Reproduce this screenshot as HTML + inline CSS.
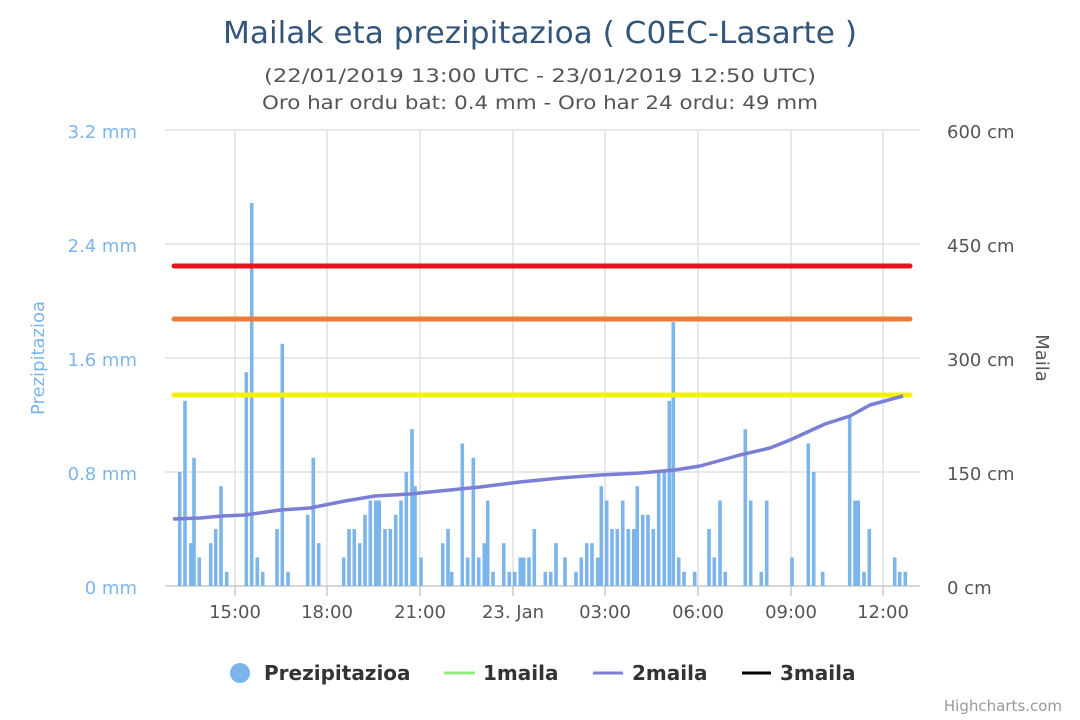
<!DOCTYPE html>
<html><head><meta charset="utf-8"><style>
html,body{margin:0;padding:0;background:#fff;}
svg{display:block;font-family:"DejaVu Sans","Liberation Sans",sans-serif;}
</style></head><body>
<svg width="1080" height="720" viewBox="0 0 1080 720" xmlns="http://www.w3.org/2000/svg">
<rect width="1080" height="720" fill="#fff"/>
<text x="540" y="43" text-anchor="middle" font-size="30" fill="#34557a" textLength="634" lengthAdjust="spacingAndGlyphs">Mailak eta prezipitazioa ( C0EC-Lasarte )</text>
<text x="540" y="82" text-anchor="middle" font-size="19" fill="#555" textLength="552" lengthAdjust="spacingAndGlyphs">(22/01/2019 13:00 UTC - 23/01/2019 12:50 UTC)</text>
<text x="540" y="109" text-anchor="middle" font-size="19" fill="#555" textLength="556" lengthAdjust="spacingAndGlyphs">Oro har ordu bat: 0.4 mm - Oro har 24 ordu: 49 mm</text>
<g stroke="#e0e0e0" stroke-width="1.5">
<line x1="165" y1="130" x2="920" y2="130"/><line x1="165" y1="244" x2="920" y2="244"/><line x1="165" y1="358" x2="920" y2="358"/><line x1="165" y1="472" x2="920" y2="472"/>
<line x1="235" y1="130" x2="235" y2="586"/><line x1="327" y1="130" x2="327" y2="586"/><line x1="420" y1="130" x2="420" y2="586"/><line x1="513" y1="130" x2="513" y2="586"/><line x1="605" y1="130" x2="605" y2="586"/><line x1="698" y1="130" x2="698" y2="586"/><line x1="791" y1="130" x2="791" y2="586"/><line x1="883" y1="130" x2="883" y2="586"/>
</g>
<line x1="165" y1="586" x2="920" y2="586" stroke="#c8c8c8" stroke-width="1.5"/>
<g stroke="#c8c8c8" stroke-width="1.5"><line x1="235" y1="586" x2="235" y2="596"/><line x1="327" y1="586" x2="327" y2="596"/><line x1="420" y1="586" x2="420" y2="596"/><line x1="513" y1="586" x2="513" y2="596"/><line x1="605" y1="586" x2="605" y2="596"/><line x1="698" y1="586" x2="698" y2="596"/><line x1="791" y1="586" x2="791" y2="596"/><line x1="883" y1="586" x2="883" y2="596"/></g>
<g font-size="18" fill="#7cb5ec" text-anchor="end">
<text x="137" y="138">3.2 mm</text><text x="137" y="252">2.4 mm</text><text x="137" y="366">1.6 mm</text><text x="137" y="480">0.8 mm</text><text x="137" y="594">0 mm</text>
</g>
<text transform="translate(44,358) rotate(-90)" text-anchor="middle" font-size="18" fill="#7cb5ec">Prezipitazioa</text>
<g font-size="18" fill="#555">
<text x="947" y="138">600 cm</text><text x="947" y="252">450 cm</text><text x="947" y="366">300 cm</text><text x="947" y="480">150 cm</text><text x="947" y="594">0 cm</text>
</g>
<text transform="translate(1036,358) rotate(90)" text-anchor="middle" font-size="18" fill="#555">Maila</text>
<g font-size="18" fill="#555" text-anchor="middle">
<text x="235" y="618">15:00</text><text x="327" y="618">18:00</text><text x="420" y="618">21:00</text><text x="513" y="618">23. Jan</text><text x="605" y="618">03:00</text><text x="698" y="618">06:00</text><text x="791" y="618">09:00</text><text x="883" y="618">12:00</text>
</g>
<g fill="#7cb5ec">
<rect x="177.9" y="472" width="3.6" height="114"/>
<rect x="183.2" y="400.8" width="3.6" height="185.2"/>
<rect x="188.9" y="543.2" width="3.6" height="42.8"/>
<rect x="192.2" y="457.8" width="3.6" height="128.2"/>
<rect x="197.5" y="557.5" width="3.6" height="28.5"/>
<rect x="208.9" y="543.2" width="3.6" height="42.8"/>
<rect x="213.9" y="529" width="3.6" height="57"/>
<rect x="219.2" y="486.2" width="3.6" height="99.8"/>
<rect x="224.9" y="571.8" width="3.6" height="14.2"/>
<rect x="244.5" y="372.2" width="3.6" height="213.8"/>
<rect x="249.9" y="203" width="3.6" height="383"/>
<rect x="255.5" y="557.5" width="3.6" height="28.5"/>
<rect x="260.9" y="571.8" width="3.6" height="14.2"/>
<rect x="275.2" y="529" width="3.6" height="57"/>
<rect x="280.5" y="343.8" width="3.6" height="242.2"/>
<rect x="286.2" y="571.8" width="3.6" height="14.2"/>
<rect x="305.9" y="514.8" width="3.6" height="71.2"/>
<rect x="311.5" y="457.8" width="3.6" height="128.2"/>
<rect x="316.9" y="543.2" width="3.6" height="42.8"/>
<rect x="341.9" y="557.5" width="3.6" height="28.5"/>
<rect x="347.2" y="529" width="3.6" height="57"/>
<rect x="352.5" y="529" width="3.6" height="57"/>
<rect x="357.9" y="543.2" width="3.6" height="42.8"/>
<rect x="363.2" y="514.8" width="3.6" height="71.2"/>
<rect x="368.5" y="500.5" width="3.6" height="85.5"/>
<rect x="373.9" y="500.5" width="3.6" height="85.5"/>
<rect x="377.5" y="500.5" width="3.6" height="85.5"/>
<rect x="383.2" y="529" width="3.6" height="57"/>
<rect x="388.5" y="529" width="3.6" height="57"/>
<rect x="393.9" y="514.8" width="3.6" height="71.2"/>
<rect x="399.2" y="500.5" width="3.6" height="85.5"/>
<rect x="404.5" y="472" width="3.6" height="114"/>
<rect x="410.2" y="429.2" width="3.6" height="156.8"/>
<rect x="413.2" y="486.2" width="3.6" height="99.8"/>
<rect x="419.2" y="557.5" width="3.6" height="28.5"/>
<rect x="440.9" y="543.2" width="3.6" height="42.8"/>
<rect x="446.2" y="529" width="3.6" height="57"/>
<rect x="449.9" y="571.8" width="3.6" height="14.2"/>
<rect x="460.5" y="443.5" width="3.6" height="142.5"/>
<rect x="465.9" y="557.5" width="3.6" height="28.5"/>
<rect x="471.5" y="457.8" width="3.6" height="128.2"/>
<rect x="476.9" y="557.5" width="3.6" height="28.5"/>
<rect x="482.5" y="543.2" width="3.6" height="42.8"/>
<rect x="485.9" y="500.5" width="3.6" height="85.5"/>
<rect x="491.2" y="571.8" width="3.6" height="14.2"/>
<rect x="501.9" y="543.2" width="3.6" height="42.8"/>
<rect x="507.5" y="571.8" width="3.6" height="14.2"/>
<rect x="512.9" y="571.8" width="3.6" height="14.2"/>
<rect x="518.5" y="557.5" width="3.6" height="28.5"/>
<rect x="521.9" y="557.5" width="3.6" height="28.5"/>
<rect x="527.2" y="557.5" width="3.6" height="28.5"/>
<rect x="532.5" y="529" width="3.6" height="57"/>
<rect x="543.5" y="571.8" width="3.6" height="14.2"/>
<rect x="548.9" y="571.8" width="3.6" height="14.2"/>
<rect x="554.2" y="543.2" width="3.6" height="42.8"/>
<rect x="563.2" y="557.5" width="3.6" height="28.5"/>
<rect x="574.2" y="571.8" width="3.6" height="14.2"/>
<rect x="579.5" y="557.5" width="3.6" height="28.5"/>
<rect x="584.9" y="543.2" width="3.6" height="42.8"/>
<rect x="590.2" y="543.2" width="3.6" height="42.8"/>
<rect x="595.9" y="557.5" width="3.6" height="28.5"/>
<rect x="599.5" y="486.2" width="3.6" height="99.8"/>
<rect x="604.9" y="500.5" width="3.6" height="85.5"/>
<rect x="610.2" y="529" width="3.6" height="57"/>
<rect x="615.5" y="529" width="3.6" height="57"/>
<rect x="620.9" y="500.5" width="3.6" height="85.5"/>
<rect x="626.5" y="529" width="3.6" height="57"/>
<rect x="631.9" y="529" width="3.6" height="57"/>
<rect x="635.5" y="486.2" width="3.6" height="99.8"/>
<rect x="640.9" y="514.8" width="3.6" height="71.2"/>
<rect x="646.2" y="514.8" width="3.6" height="71.2"/>
<rect x="651.5" y="529" width="3.6" height="57"/>
<rect x="656.9" y="472" width="3.6" height="114"/>
<rect x="662.5" y="472" width="3.6" height="114"/>
<rect x="667.5" y="400.8" width="3.6" height="185.2"/>
<rect x="671.5" y="322" width="3.6" height="264"/>
<rect x="676.9" y="557.5" width="3.6" height="28.5"/>
<rect x="682.2" y="571.8" width="3.6" height="14.2"/>
<rect x="692.9" y="571.8" width="3.6" height="14.2"/>
<rect x="707.2" y="529" width="3.6" height="57"/>
<rect x="712.5" y="557.5" width="3.6" height="28.5"/>
<rect x="718.2" y="500.5" width="3.6" height="85.5"/>
<rect x="723.5" y="571.8" width="3.6" height="14.2"/>
<rect x="743.5" y="429.2" width="3.6" height="156.8"/>
<rect x="748.9" y="500.5" width="3.6" height="85.5"/>
<rect x="759.5" y="571.8" width="3.6" height="14.2"/>
<rect x="764.9" y="500.5" width="3.6" height="85.5"/>
<rect x="790.2" y="557.5" width="3.6" height="28.5"/>
<rect x="806.5" y="443.5" width="3.6" height="142.5"/>
<rect x="811.9" y="472" width="3.6" height="114"/>
<rect x="820.9" y="571.8" width="3.6" height="14.2"/>
<rect x="847.9" y="415" width="3.6" height="171"/>
<rect x="853.2" y="500.5" width="3.6" height="85.5"/>
<rect x="856.5" y="500.5" width="3.6" height="85.5"/>
<rect x="862.2" y="571.8" width="3.6" height="14.2"/>
<rect x="867.5" y="529" width="3.6" height="57"/>
<rect x="892.9" y="557.5" width="3.6" height="28.5"/>
<rect x="897.9" y="571.8" width="3.6" height="14.2"/>
<rect x="903.5" y="571.8" width="3.6" height="14.2"/>
</g>
<g stroke-width="5" stroke-linecap="round">
<line x1="174" y1="266" x2="910" y2="266" stroke="#e3151f"/>
<line x1="174" y1="319" x2="910" y2="319" stroke="#ec7c3a"/>
<line x1="174" y1="395" x2="910" y2="395" stroke="#f4f10f"/>
</g>
<polyline fill="none" stroke="#7b7fd4" stroke-width="3.5" stroke-linejoin="round" points="173,519 200,518 222,516 245,515 280,510 310,508 345,501 375,496 410,494 440,491 480,487 520,482 560,478 600,475 640,473 675,470 700,466 740,455 770,448 790,440 825,424 850,416 870,405 903,396"/>
<circle cx="240" cy="673" r="10" fill="#7cb5ec"/>
<g font-size="20" font-weight="bold" fill="#333">
<text x="264" y="680">Prezipitazioa</text>
<text x="483" y="680">1maila</text>
<text x="632" y="680">2maila</text>
<text x="780" y="680">3maila</text>
</g>
<line x1="444" y1="673" x2="475" y2="673" stroke="#90ed7d" stroke-width="3"/>
<line x1="593" y1="673" x2="623" y2="673" stroke="#7b7fd4" stroke-width="3"/>
<line x1="742" y1="673" x2="771" y2="673" stroke="#000" stroke-width="3"/>
<text x="1062" y="711" text-anchor="end" font-size="15" fill="#999">Highcharts.com</text>
</svg>
</body></html>
